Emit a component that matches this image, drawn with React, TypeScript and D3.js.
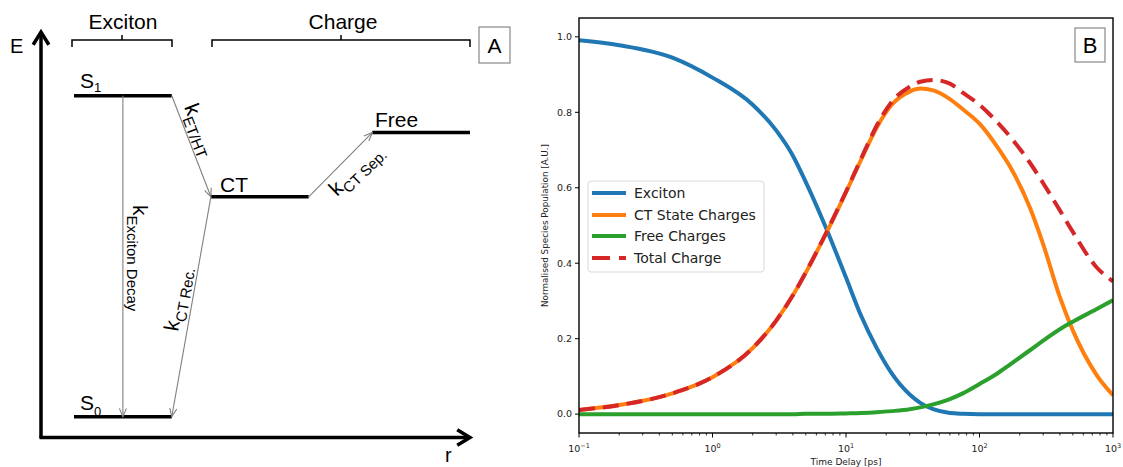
import React from 'react';
import * as d3 from 'd3';

// ---- panel B data ----
const times = [0.1, 0.2, 0.5, 1, 2, 3, 4, 5, 7, 10, 13, 17, 22, 30, 36, 45, 60, 75, 100, 135, 170, 240, 300, 400, 500, 750, 1000];
const exciton = [0.991, 0.978, 0.945, 0.892, 0.82, 0.752, 0.685, 0.615, 0.498, 0.362, 0.26, 0.175, 0.108, 0.052, 0.03, 0.013, 0.003, 0.001, 0, 0, 0, 0, 0, 0, 0, 0, 0];
const ctCharges = [0.011, 0.024, 0.055, 0.098, 0.175, 0.248, 0.315, 0.375, 0.475, 0.588, 0.675, 0.76, 0.82, 0.855, 0.863, 0.858, 0.835, 0.808, 0.77, 0.71, 0.655, 0.545, 0.45, 0.31, 0.222, 0.105, 0.05];
const freeCharges = [0, 0, 0, 0, 0, 0, 0, 0.001, 0.001, 0.002, 0.003, 0.005, 0.008, 0.013, 0.018, 0.026, 0.04, 0.055, 0.08, 0.107, 0.132, 0.17, 0.195, 0.225, 0.245, 0.278, 0.302];
const totalCharge = [0.011, 0.024, 0.055, 0.098, 0.175, 0.248, 0.315, 0.376, 0.476, 0.59, 0.678, 0.765, 0.828, 0.868, 0.881, 0.886, 0.876, 0.852, 0.82, 0.775, 0.735, 0.665, 0.612, 0.54, 0.483, 0.39, 0.352];

const seriesNames = ['Exciton', 'CT State Charges', 'Free Charges', 'Total Charge'];
const seriesColors = ['#1f77b4', '#ff7f0e', '#2ca02c', '#d62728'];
const seriesValues = [exciton, ctCharges, freeCharges, totalCharge];

// ---- panel A schematic levels ----
const levelNames = ['S1', 'S0', 'CT', 'Free'];
const levelEnergy = [1, 0, 0.685, 0.885];
const levelStart = [0, 0, 1.4, 3.05];
const levelEnd = [1, 1, 2.4, 4.05];

const sans = 'Liberation Sans, Arial, sans-serif';
const mpl = 'DejaVu Sans, sans-serif';

function headPath(x1: number, y1: number, x2: number, y2: number, len: number, spread: number) {
  const a = Math.atan2(y2 - y1, x2 - x1);
  const l = [x2 - len * Math.cos(a - spread), y2 - len * Math.sin(a - spread)];
  const r = [x2 - len * Math.cos(a + spread), y2 - len * Math.sin(a + spread)];
  return `M${l[0]},${l[1]} L${x2},${y2} L${r[0]},${r[1]}`;
}

function PanelA() {
  const r = d3.scaleLinear().domain([0, 4.05]).range([74, 470]);
  const e = d3.scaleLinear().domain([0, 1]).range([416.7, 95.7]);

  const S1 = 0, S0 = 1, CT = 2, FR = 3;
  // transitions: [from x, from y, to x, to y]
  const arrows = [
    [r(0.5), e(levelEnergy[S1]), r(0.5), e(levelEnergy[S0])],
    [r(levelEnd[S1]), e(levelEnergy[S1]), r(levelStart[CT]), e(levelEnergy[CT])],
    [r(levelStart[CT]), e(levelEnergy[CT]), r(levelEnd[S0]), e(levelEnergy[S0])],
    [r(levelEnd[CT]), e(levelEnergy[CT]), r(levelStart[FR]), e(levelEnergy[FR])],
  ];

  const rateLabels = [
    { sub: 'Exciton Decay', t: 'translate(133,205) rotate(90)' },
    { sub: 'ET/HT', t: 'translate(184,107) rotate(69)' },
    { sub: 'CT Rec.', t: 'translate(178,332) rotate(-80)' },
    { sub: 'CT Sep.', t: 'translate(337,197) rotate(-44)' },
  ];

  return (
    <g fontFamily={sans}>
      {/* axes */}
      <line x1={41} y1={438} x2={41} y2={33} stroke="#000" strokeWidth={3.5} />
      <path d={headPath(41, 60, 41, 32, 15, 0.55)} fill="none" stroke="#000" strokeWidth={3.5} />
      <line x1={39.5} y1={437.5} x2={469} y2={437.5} stroke="#000" strokeWidth={3.5} />
      <path d={headPath(440, 437.5, 470, 437.5, 15, 0.55)} fill="none" stroke="#000" strokeWidth={3.5} />
      <text x={10} y={53} fontSize={20}>E</text>
      <text x={445} y={462} fontSize={20}>r</text>

      {/* brackets */}
      <path d="M72,47 V40 H172 V47 M122,40 V35" fill="none" stroke="#000" strokeWidth={1.5} />
      <path d="M212,47 V40 H470 V47 M341,40 V35" fill="none" stroke="#000" strokeWidth={1.5} />
      <text x={123} y={29} fontSize={21} textAnchor="middle">Exciton</text>
      <text x={343} y={29} fontSize={21} textAnchor="middle">Charge</text>

      <rect x={479} y={27} width={31} height={36} fill="none" stroke="#888" strokeWidth={1.2} />
      <text x={494.5} y={53} fontSize={21} textAnchor="middle">A</text>

      {/* levels */}
      {levelNames.map((n, i) => (
        <line key={n} x1={r(levelStart[i])} x2={r(levelEnd[i])} y1={e(levelEnergy[i])} y2={e(levelEnergy[i])}
          stroke="#000" strokeWidth={3.5} />
      ))}
      <text x={80} y={88} fontSize={21}>S<tspan fontSize={13} dy={4}>1</tspan></text>
      <text x={80} y={410} fontSize={21}>S<tspan fontSize={13} dy={6}>0</tspan></text>
      <text x={220} y={192} fontSize={21}>CT</text>
      <text x={375} y={127} fontSize={21}>Free</text>

      {/* transitions */}
      {arrows.map((a, i) => (
        <g key={i} stroke="#808080" strokeWidth={1.1} fill="none">
          <line x1={a[0]} y1={a[1]} x2={a[2]} y2={a[3]} />
          <path d={headPath(a[0], a[1], a[2], a[3], 9, 0.4)} />
        </g>
      ))}
      {rateLabels.map((l, i) => (
        <text key={i} transform={l.t} fontSize={21} fill="#000">
          k<tspan fontSize={15} dy={6}>{l.sub}</tspan>
        </text>
      ))}
    </g>
  );
}

function PanelB() {
  const left = 579, right = 1113, top = 18, bottom = 433;
  const x = d3.scaleLog().domain([0.1, 1000]).range([left, right]);
  const y = d3.scaleLinear().domain([-0.05, 1.05]).range([bottom, top]);

  const line = d3.line<number>()
    .x((_, i) => x(times[i]))
    .y(d => y(d))
    .curve(d3.curveMonotoneX);

  const allTicks = x.ticks();
  const majors = allTicks.filter(t => Math.abs(Math.log10(t) - Math.round(Math.log10(t))) < 1e-9);
  const minors = allTicks.filter(t => !majors.includes(t));
  const yTicks = y.ticks(5);
  const fmt = d3.format('.1f');

  const legendY = [193, 215, 236, 258];

  return (
    <g fontFamily={mpl}>
      <defs>
        <clipPath id="plotClip">
          <rect x={left} y={top} width={right - left} height={bottom - top} />
        </clipPath>
      </defs>

      <g clipPath="url(#plotClip)">
        {seriesValues.map((vals, i) => (
          <path key={seriesNames[i]} d={line(vals) || ''} fill="none" stroke={seriesColors[i]}
            strokeWidth={4} strokeDasharray={i === 3 ? '16,8' : undefined} />
        ))}
      </g>

      <rect x={left} y={top} width={right - left} height={bottom - top} fill="none" stroke="#000" strokeWidth={1.4} />

      {/* y axis */}
      {yTicks.map(t => (
        <g key={t}>
          <line x1={left - 4} x2={left} y1={y(t)} y2={y(t)} stroke="#000" strokeWidth={1} />
          <text x={left - 7} y={y(t)} dy="0.35em" textAnchor="end" fontSize={9.5} fill="#222">{fmt(t)}</text>
        </g>
      ))}
      <text transform={`translate(548,${(top + bottom) / 2}) rotate(-90)`} textAnchor="middle" fontSize={8.8} fill="#222">
        Normalised Species Population [A.U.]
      </text>

      {/* x axis */}
      {minors.map(t => (
        <line key={'m' + t} x1={x(t)} x2={x(t)} y1={bottom} y2={bottom + 2.5} stroke="#000" strokeWidth={0.8} />
      ))}
      {majors.map(t => (
        <g key={'M' + t}>
          <line x1={x(t)} x2={x(t)} y1={bottom} y2={bottom + 4.5} stroke="#000" strokeWidth={1} />
          <text x={x(t)} y={452} textAnchor="middle" fontSize={9.5} fill="#222">
            10<tspan fontSize={6.5} dy={-4}>{Math.round(Math.log10(t)).toString().replace('-', '\u2212')}</tspan>
          </text>
        </g>
      ))}
      <text x={(left + right) / 2} y={465} textAnchor="middle" fontSize={9} fill="#222">Time Delay [ps]</text>

      {/* legend */}
      <rect x={588} y={181} width={176} height={91} rx={3} fill="#fff" fillOpacity={0.8} stroke="#d8d8d8" />
      {seriesNames.map((n, i) => (
        <g key={n}>
          <line x1={592} x2={626} y1={legendY[i]} y2={legendY[i]} stroke={seriesColors[i]} strokeWidth={4}
            strokeDasharray={i === 3 ? '18,9' : undefined} />
          <text x={634} y={legendY[i]} dy="0.35em" fontSize={14} fill="#222">{n}</text>
        </g>
      ))}

      <rect x={1075} y={28} width={30} height={34} fill="#fff" stroke="#888" strokeWidth={1.2} />
      <text x={1090} y={52.5} textAnchor="middle" fontSize={22} fontFamily={sans}>B</text>
    </g>
  );
}

export default function App() {
  return (
    <svg width={1123} height={467} style={{ position: 'absolute', left: 0, top: 0, background: '#fff' }}>
      <rect width={1123} height={467} fill="#fff" />
      <PanelA />
      <PanelB />
    </svg>
  );
}
